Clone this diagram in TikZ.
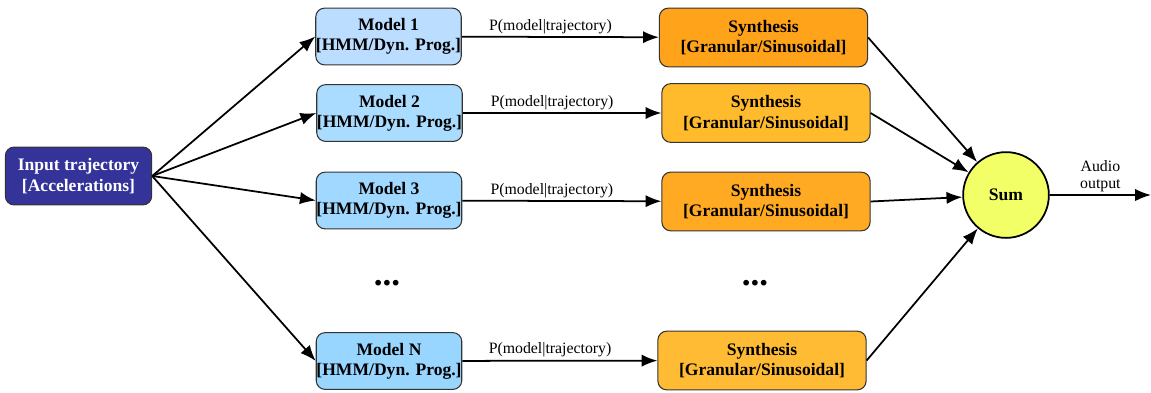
\documentclass[tikz,border=0pt]{standalone}
\usepackage{fontspec}
\setmainfont{Liberation Serif}[BoldFont={Liberation Serif Bold}]
\usetikzlibrary{arrows.meta}
\definecolor{inblue}{RGB}{51,51,153}
\definecolor{modA}{RGB}{187,221,255}
\definecolor{modB}{RGB}{170,220,255}
\definecolor{modC}{RGB}{160,216,255}
\definecolor{modD}{RGB}{153,214,255}
\definecolor{synA}{RGB}{255,163,26}
\definecolor{synB}{RGB}{255,187,43}
\definecolor{synC}{RGB}{255,170,34}
\definecolor{synD}{RGB}{255,187,51}
\definecolor{sumyel}{RGB}{242,255,102}
\tikzset{arr/.style = {-{Latex[length=9pt,width=7pt]}, line width=1pt}}
\tikzset{box/.style = {draw=black!80, line width=0.6pt, rounded corners=5pt, inner sep=0,
                       align=center, font=\fontsize{10}{11.5}\selectfont\bfseries}}
\tikzset{modelbox/.style = {box, minimum width=82.8pt, minimum height=32.3pt}}
\tikzset{synthbox/.style = {box, minimum width=118.5pt, minimum height=33.4pt}}
\tikzset{lbl/.style = {font=\fontsize{9}{10}\selectfont, inner sep=1.5pt}}

\begin{document}
\begin{tikzpicture}[x=0.02cm, y=-0.02cm]
  \useasboundingbox (0,0) rectangle (1151,392);
  % input
  \node [box, fill=inblue, text=white, minimum width=83.3pt, minimum height=32.9pt] (input) at (78.5,176) {Input trajectory\\{}[Accelerations]};
  % models
  \node [modelbox, fill=modA] (m1) at (388.5,36.5) {Model 1\\{}[HMM/Dyn. Prog.]};
  \node [modelbox, fill=modB] (m2) at (389.5,113) {Model 2\\{}[HMM/Dyn. Prog.]};
  \node [modelbox, fill=modC] (m3) at (389,200.5) {Model 3\\{}[HMM/Dyn. Prog.]};
  \node [modelbox, fill=modD] (mN) at (389,361) {Model N\\{}[HMM/Dyn. Prog.]};
  % synthesis
  \node [synthbox, fill=synA] (s1) at (763.5,37.5) {Synthesis\\{}[Granular/Sinusoidal]};
  \node [synthbox, fill=synB] (s2) at (766,113) {Synthesis\\{}[Granular/Sinusoidal]};
  \node [synthbox, fill=synC] (s3) at (766,201.5) {Synthesis\\{}[Granular/Sinusoidal]};
  \node [synthbox, fill=synD] (sN) at (762,360.5) {Synthesis\\{}[Granular/Sinusoidal]};
  % sum
  \node [circle, draw, line width=1pt, fill=sumyel, minimum size=48.8pt, inner sep=0, font=\fontsize{10}{12}\selectfont\bfseries] (sum) at (1006,195) {Sum};
  \coordinate (out) at (1151,195);
  % dots
  \node (dotsA) at (387,283) {\fontsize{20}{20}\selectfont\textbf{...}};
  \node (dotsB) at (755,283) {\fontsize{20}{20}\selectfont\textbf{...}};

  \foreach \m in {m1,m2,m3,mN}
    \draw [arr] (input.east) -- (\m.west);
  \draw [arr] (m1) -- (s1) node [lbl, pos=0.45, above] {P(model|trajectory)};
  \draw [arr] (m2) -- (s2) node [lbl, pos=0.45, above] {P(model|trajectory)};
  \draw [arr] (m3) -- (s3) node [lbl, pos=0.45, above] {P(model|trajectory)};
  \draw [arr] (mN) -- (sN) node [lbl, pos=0.45, above] {P(model|trajectory)};
  \foreach \s in {s1,s2,s3,sN}
    \draw [arr] (\s.east) -- (sum);
  \draw [arr] (sum) -- (out) node [lbl, midway, above, align=center, font=\fontsize{9}{9.5}\selectfont] {Audio\\output};
\end{tikzpicture}
\end{document}
